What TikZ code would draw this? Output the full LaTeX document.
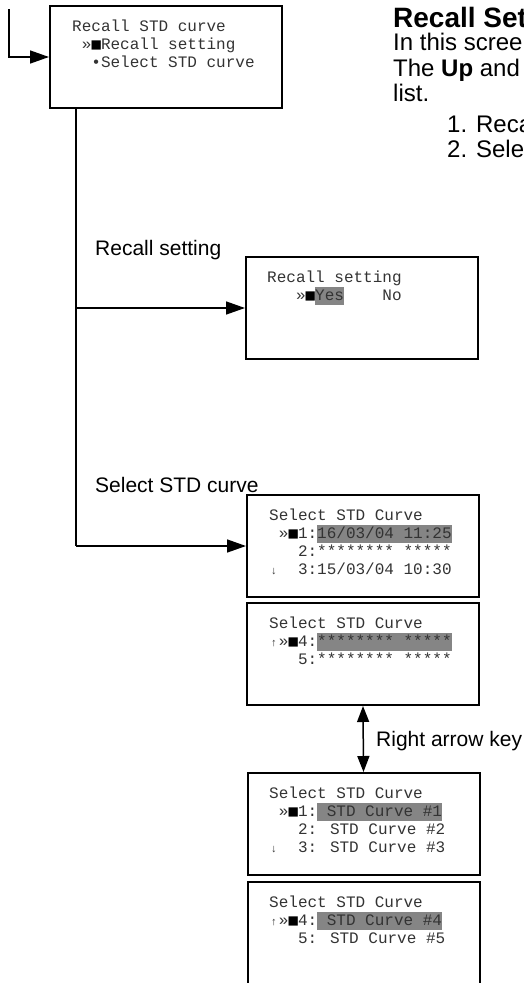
\documentclass[tikz,border=0pt]{standalone}
\usepackage{fontspec}
\setmainfont{Liberation Sans}
\newfontfamily\lcd{Liberation Mono}
\newfontfamily\dvm{DejaVu Sans Mono}
\usetikzlibrary{arrows.meta}
\definecolor{hl}{HTML}{858585}
\newcommand\hlt[1]{{\setlength\fboxsep{0pt}\colorbox{hl}{\rule[-5pt]{0pt}{18.5pt}#1}}}
\newcommand\sarr[1]{\makebox[9.6pt]{\fontsize{11}{11}\selectfont #1}}
\newcommand\blk{\makebox[9.6pt]{\dvm\fontsize{15.5}{15.5}\selectfont\color{black}■}}
\begin{document}
\begin{tikzpicture}[x=1pt,y=-1pt,
 screen/.style={draw=black,line width=2pt,minimum width=232pt,minimum height=102pt,inner sep=0pt},
 mono/.style={anchor=base west,inner sep=0pt,font=\lcd\fontsize{16}{18}\selectfont,text=black!80},
 lbl/.style={anchor=base west,inner sep=0pt,font=\fontsize{21}{25}\selectfont},
 body/.style={anchor=base west,inner sep=0pt,font=\fontsize{24}{28}\selectfont},
 conn/.style={line width=1.5pt},
 arr/.style={-{Triangle[length=19pt,width=13pt]}},
 darr/.style={{Triangle[length=16pt,width=12pt]}-{Triangle[length=16pt,width=12pt]}}]
\useasboundingbox (0,0) rectangle (524,983);

% screens
\node[screen] (s0) at (166,57) {};
\node[screen] (s1) at (362,308) {};
\node[screen] (s2) at (363,546) {};
\node[screen] (s3) at (363,654) {};
\node[screen] (s4) at (363.5,824) {};
\node[screen,minimum height=106pt] (s5) at (363.5,935) {};

% screen texts
\node[mono] (s0a) at (72,31) {Recall STD curve};
\node[mono] (s0b) at (72,49) {~»\blk Recall setting};
\node[mono] (s0c) at (72,67) {~~•Select STD curve};

\node[mono] (s1a) at (267,282) {Recall setting};
\node[mono] (s1b) at (267,300) {~~~»\blk\hlt{Yes}~~~~No};

\node[mono] (s2a) at (269,520) {Select STD Curve};
\node[mono] (s2b) at (269,538) {~»\blk 1:\hlt{16/03/04 11:25}};
\node[mono] (s2c) at (269,556) {~~~2:******** *****};
\node[mono] (s2d) at (269,574) {\sarr{↓}~~3:15/03/04 10:30};

\node[mono] (s3a) at (269,628) {Select STD Curve};
\node[mono] (s3b) at (269,646) {\sarr{↑}»\blk 4:\hlt{******** *****}};
\node[mono] (s3c) at (269,664) {~~~5:******** *****};

\node[mono] (s4a) at (269,798) {Select STD Curve};
\node[mono] (s4b) at (269,816) {~»\blk 1:\hlt{~STD Curve \#1}};
\node[mono] (s4c) at (269,834) {~~~2: STD Curve \#2};
\node[mono] (s4d) at (269,852) {\sarr{↓}~~3: STD Curve \#3};

\node[mono] (s5a) at (269,907) {Select STD Curve};
\node[mono] (s5b) at (269,925) {\sarr{↑}»\blk 4:\hlt{~STD Curve \#4}};
\node[mono] (s5c) at (269,943) {~~~5: STD Curve \#5};

% description text (cut by the page edge, as in the reference)
\begin{scope}
\clip (0,0) rectangle (524,983);
\node[anchor=base west,inner sep=0pt,font=\bfseries\fontsize{28}{32}\selectfont] (hd) at (393,27) {Recall Setting};
\node[body] (p1) at (393,50) {In this screen};
\node[body] (p2) at (393,76) {The \textbf{Up} and};
\node[body] (p3) at (393,101) {list.};
\node[body] (p4) at (447,132) {1. Recall setting};
\node[body] (p5) at (447,157) {2. Select STD curve};
\end{scope}

% labels
\node[lbl] (l1) at (95,255) {Recall setting};
\node[lbl] (l2) at (95,492) {Select STD curve};
\node[lbl] (l3) at (376,746) {Right arrow key};

% connectors
\coordinate (e0) at (9,9);
\draw[conn,arr] (e0) |- (s0.west);
\coordinate (tk) at (76,108);
\draw[conn] (tk) -- (tk |- s2.west);
\draw[conn,arr] (tk |- s1.west) -- (s1.west);
\draw[conn,arr] (tk |- s2.west) -- (s2.west);
\draw[conn,darr] (s3.south) -- (s4.north);
\end{tikzpicture}
\end{document}
